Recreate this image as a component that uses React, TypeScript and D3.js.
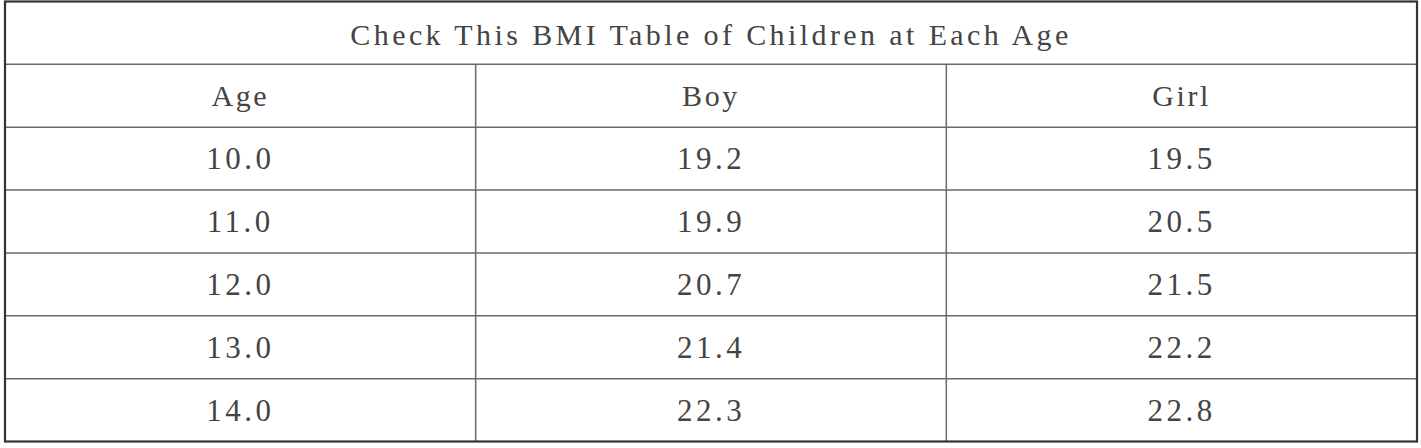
import React from "react";
import * as d3 from "d3";

const title = "Check This BMI Table of Children at Each Age";
const columns = ["Age", "Boy", "Girl"];
const ages = ["10.0", "11.0", "12.0", "13.0", "14.0"];
const boy = ["19.2", "19.9", "20.7", "21.4", "22.3"];
const girl = ["19.5", "20.5", "21.5", "22.2", "22.8"];

const W = 1421;
const H = 448;

export default function App() {
  const rows = ages.map((a, i) => [a, boy[i], girl[i]]);
  const rowKeys = ["title", "header", ...ages];
  const x = d3.scaleBand<string>().domain(columns).range([5, 1417]);
  const y = d3.scaleBand<string>().domain(rowKeys).range([1.5, 441.5]);
  const font = "Liberation Serif, Tinos, Times New Roman, DejaVu Serif, serif";
  const textColor = "#444";
  const lineColor = "#6a6a6a";
  const left = x.range()[0];
  const right = x.range()[1];
  const top = y.range()[0];
  const bottom = y.range()[1];
  return (
    <svg
      width={W}
      height={H}
      style={{ position: "absolute", left: 0, top: 0, background: "#fff" }}
    >
      <rect x={0} y={0} width={W} height={H} fill="#fff" />
      {rowKeys.slice(1).map((k) => (
        <line
          key={"h" + k}
          x1={left}
          x2={right}
          y1={y(k)!}
          y2={y(k)!}
          stroke={lineColor}
          strokeWidth={1.5}
        />
      ))}
      {columns.slice(1).map((c) => (
        <line
          key={"v" + c}
          x1={x(c)!}
          x2={x(c)!}
          y1={y("header")!}
          y2={bottom}
          stroke={lineColor}
          strokeWidth={1.5}
        />
      ))}
      <rect
        x={left}
        y={top}
        width={right - left}
        height={bottom - top}
        fill="none"
        stroke="#333"
        strokeWidth={2.2}
      />
      <text
        x={(left + right) / 2}
        y={y("title")! + y.bandwidth() / 2 + 2}
        textAnchor="middle"
        dominantBaseline="central"
        fontFamily={font}
        fontSize={30}
        letterSpacing={3.4}
        fill={textColor}
      >
        {title}
      </text>
      {columns.map((c) => (
        <text
          key={"hd" + c}
          x={x(c)! + x.bandwidth() / 2}
          y={y("header")! + y.bandwidth() / 2}
          textAnchor="middle"
          dominantBaseline="central"
          fontFamily={font}
          fontSize={30}
          letterSpacing={2.6}
          fill={textColor}
        >
          {c}
        </text>
      ))}
      {rows.map((r, i) =>
        r.map((v, j) => (
          <text
            key={"c" + i + "-" + j}
            x={x(columns[j])! + x.bandwidth() / 2}
            y={y(ages[i])! + y.bandwidth() / 2}
            textAnchor="middle"
            dominantBaseline="central"
            fontFamily={font}
            fontSize={31}
            letterSpacing={3.5}
            fill={textColor}
          >
            {v}
          </text>
        ))
      )}
    </svg>
  );
}
